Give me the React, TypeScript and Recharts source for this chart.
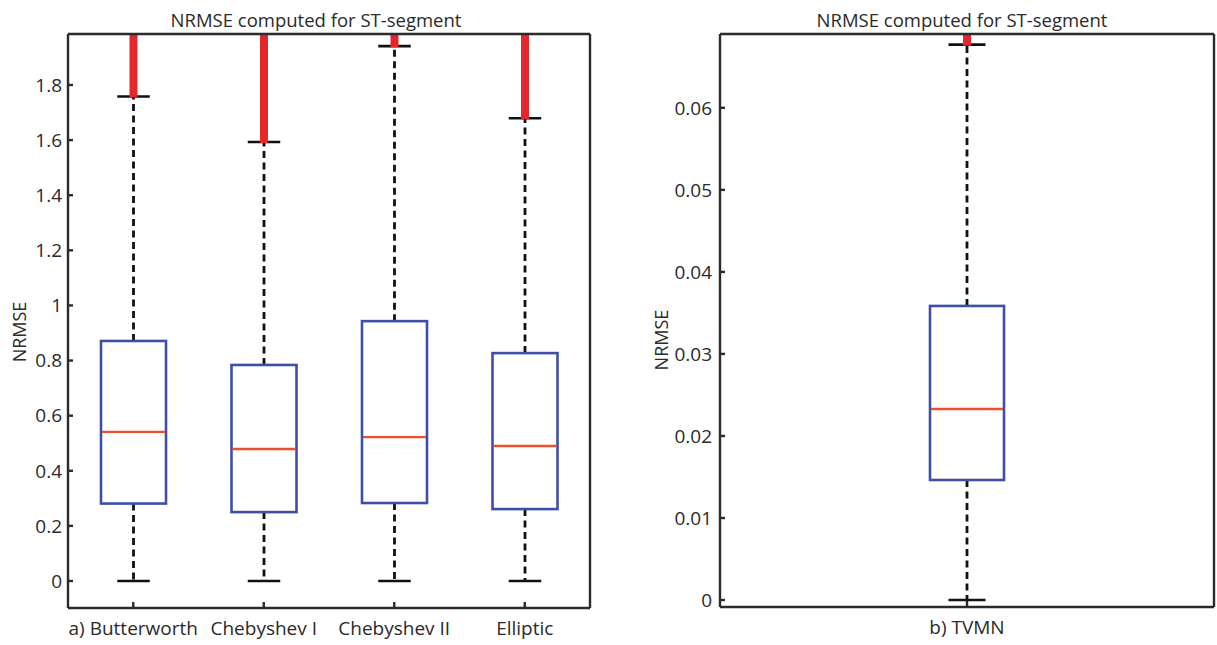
import React from 'react';
import { ComposedChart, Bar, XAxis, YAxis } from 'recharts';

// ---------- Data ----------
const leftCategories = ['a) Butterworth', 'Chebyshev I', 'Chebyshev II', 'Elliptic'];
const leftWhiskerLow = [0, 0, 0, 0];
const leftQ1 = [0.281, 0.25, 0.283, 0.261];
const leftMedian = [0.541, 0.479, 0.522, 0.49];
const leftQ3 = [0.871, 0.784, 0.943, 0.827];
const leftWhiskerHigh = [1.758, 1.593, 1.941, 1.679];
const leftOutlierTop = [1.995, 1.995, 1.995, 1.995];
const leftTicks = [0, 0.2, 0.4, 0.6, 0.8, 1, 1.2, 1.4, 1.6, 1.8];
const leftDomain = [-0.098, 1.985];

const rightCategories = ['b) TVMN'];
const rightWhiskerLow = [0];
const rightQ1 = [0.01463];
const rightMedian = [0.02329];
const rightQ3 = [0.03585];
const rightWhiskerHigh = [0.0677];
const rightOutlierTop = [0.0694];
const rightTicks = [0, 0.01, 0.02, 0.03, 0.04, 0.05, 0.06];
const rightDomain = [-0.00085, 0.069];

const titleText = 'NRMSE computed for ST-segment';
const yLabelText = 'NRMSE';

// ---------- Styling ----------
const FONT = '"Open Sans", "DejaVu Sans", sans-serif';
const TEXT = '#2a2a2a';
const FRAME = '#2b2b2b';
const BOX_BLUE = '#3f4fa9';
const MEDIAN_RED = '#ee4f2c';
const OUTLIER_RED = '#e5262b';

type Row = {
  name: string;
  low: number;
  q1: number;
  median: number;
  q3: number;
  high: number;
  outlierTop: number | null;
};

function buildRows(
  cats: string[],
  low: number[],
  q1: number[],
  med: number[],
  q3: number[],
  high: number[],
  out: (number | null)[]
): Row[] {
  return cats.map((name, i) => ({
    name,
    low: low[i],
    q1: q1[i],
    median: med[i],
    q3: q3[i],
    high: high[i],
    outlierTop: out[i],
  }));
}

const leftRows = buildRows(leftCategories, leftWhiskerLow, leftQ1, leftMedian, leftQ3, leftWhiskerHigh, leftOutlierTop);
const rightRows = buildRows(rightCategories, rightWhiskerLow, rightQ1, rightMedian, rightQ3, rightWhiskerHigh, rightOutlierTop);

// Box shape: the bar spans [q1, q3] on the library's y scale; other values
// are placed on the same linear scale.
function BoxShape(props: any) {
  const { x, y, width, height, payload } = props;
  if (!payload) return null;
  const top = Math.min(y, y + height);
  const bottom = Math.max(y, y + height);
  const per = (bottom - top) / (payload.q3 - payload.q1);
  const pix = (v: number) => bottom - (v - payload.q1) * per;
  const cx = x + width / 2;
  const capHalf = width / 4;
  const yHigh = pix(payload.high);
  const yLow = pix(payload.low);
  const yMed = pix(payload.median);
  return (
    <g>
      <line x1={cx} x2={cx} y1={top} y2={yHigh} stroke="#111" strokeWidth={2.8} strokeDasharray="7 4.5" />
      <line x1={cx} x2={cx} y1={bottom} y2={yLow} stroke="#111" strokeWidth={2.8} strokeDasharray="7 4.5" />
      <line x1={cx - capHalf} x2={cx + capHalf} y1={yHigh} y2={yHigh} stroke="#111" strokeWidth={2.6} />
      <line x1={cx - capHalf} x2={cx + capHalf} y1={yLow} y2={yLow} stroke="#111" strokeWidth={2.6} />
      <rect x={x} y={top} width={width} height={bottom - top} fill="#ffffff" stroke={BOX_BLUE} strokeWidth={2.6} />
      <line x1={x + 1} x2={x + width - 1} y1={yMed} y2={yMed} stroke={MEDIAN_RED} strokeWidth={2.4} />
      {payload.outlierTop != null && (
        <line
          x1={cx}
          x2={cx}
          y1={yHigh + 1}
          y2={pix(payload.outlierTop)}
          stroke={OUTLIER_RED}
          strokeWidth={8}
          strokeLinecap="butt"
        />
      )}
    </g>
  );
}

const tickStyle = { fontFamily: FONT, fontSize: 19, fill: TEXT };
const lineStyle = { stroke: FRAME, strokeWidth: 2.4 };

function Panel(props: {
  rows: Row[];
  width: number;
  height: number;
  marginRight: number;
  yAxisWidth: number;
  xAxisHeight: number;
  domain: number[];
  ticks: number[];
  barSize: number;
  yTickMargin: number;
}) {
  const { rows, width, height, marginRight, yAxisWidth, xAxisHeight, domain, ticks, barSize, yTickMargin } = props;
  return (
    <ComposedChart
      width={width}
      height={height}
      data={rows}
      margin={{ top: 33, right: marginRight, bottom: 0, left: 0 }}
      style={{ fontFamily: FONT }}
    >
      <XAxis
        xAxisId="bottom"
        dataKey="name"
        orientation="bottom"
        height={xAxisHeight}
        interval={0}
        tickSize={-6}
        tickMargin={20}
        tick={tickStyle}
        axisLine={lineStyle}
        tickLine={lineStyle}
      />
      <XAxis
        xAxisId="top"
        dataKey="name"
        orientation="top"
        height={1}
        interval={0}
        tickSize={-6}
        tick={false}
        axisLine={lineStyle}
        tickLine={lineStyle}
      />
      <YAxis
        yAxisId="left"
        orientation="left"
        type="number"
        width={yAxisWidth}
        domain={domain}
        allowDataOverflow
        ticks={ticks}
        interval={0}
        tickSize={-5}
        tickMargin={yTickMargin}
        tickFormatter={(v: number) => String(v)}
        tick={tickStyle}
        axisLine={lineStyle}
        tickLine={lineStyle}
      />
      <YAxis
        yAxisId="right"
        orientation="right"
        type="number"
        width={1}
        domain={domain}
        allowDataOverflow
        ticks={ticks}
        interval={0}
        tickSize={-5}
        tick={false}
        axisLine={lineStyle}
        tickLine={lineStyle}
      />
      <Bar
        xAxisId="bottom"
        yAxisId="left"
        dataKey={(d: Row) => [d.q1, d.q3]}
        barSize={barSize}
        isAnimationActive={false}
        shape={(p: any) => <BoxShape {...p} />}
      />
    </ComposedChart>
  );
}

export default function App() {
  return (
    <div style={{ position: 'absolute', left: 0, top: 0, width: 1217, height: 645, background: '#ffffff', overflow: 'hidden' }}>
      <div style={{ position: 'absolute', left: 0, top: 0 }}>
        <Panel
          rows={leftRows}
          width={600}
          height={645}
          marginRight={9}
          yAxisWidth={68}
          xAxisHeight={37}
          domain={leftDomain}
          ticks={leftTicks}
          barSize={65}
          yTickMargin={11}
        />
      </div>
      <div style={{ position: 'absolute', left: 600, top: 0 }}>
        <Panel
          rows={rightRows}
          width={617}
          height={645}
          marginRight={2}
          yAxisWidth={120}
          xAxisHeight={38}
          domain={rightDomain}
          ticks={rightTicks}
          barSize={74}
          yTickMargin={13}
        />
      </div>
      <svg
        width={1217}
        height={645}
        style={{ position: 'absolute', left: 0, top: 0, pointerEvents: 'none' }}
        fontFamily={FONT}
      >
        <text x={316} y={27} textAnchor="middle" fontSize={18.5} fill={TEXT}>{titleText}</text>
        <text x={962} y={27} textAnchor="middle" fontSize={18.5} fill={TEXT}>{titleText}</text>
        <text x={19} y={332} textAnchor="middle" dominantBaseline="central" fontSize={18} fill={TEXT} transform="rotate(-90 19 332)">{yLabelText}</text>
        <text x={661} y={340} textAnchor="middle" dominantBaseline="central" fontSize={18} fill={TEXT} transform="rotate(-90 661 340)">{yLabelText}</text>
      </svg>
    </div>
  );
}
